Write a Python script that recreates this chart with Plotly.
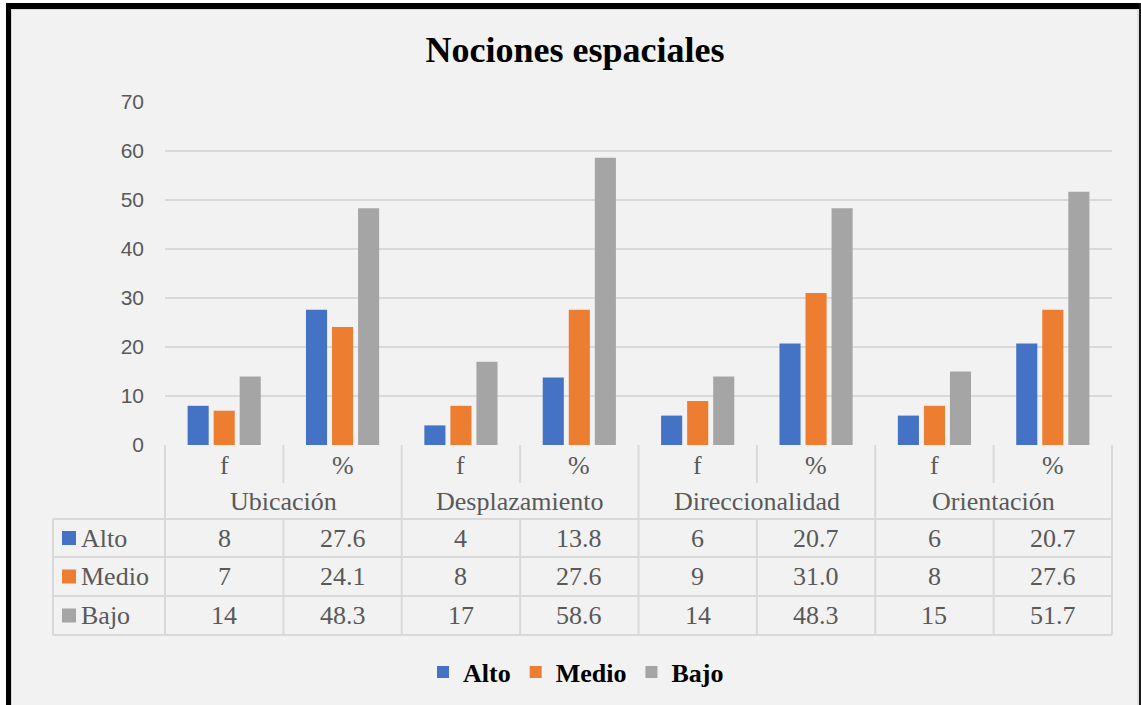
import plotly.graph_objects as go

# ---------------- data ----------------
groups = ["Ubicación", "Desplazamiento", "Direccionalidad", "Orientación"]
sub_labels = ["f", "%"]
series_names = ["Alto", "Medio", "Bajo"]
alto = [8, 27.6, 4, 13.8, 6, 20.7, 6, 20.7]
medio = [7, 24.1, 8, 27.6, 9, 31.0, 8, 27.6]
bajo = [14, 48.3, 17, 58.6, 14, 48.3, 15, 51.7]
series_values = [alto, medio, bajo]
colors = ["#4472c4", "#ed7d31", "#a5a5a5"]
title_text = "Nociones espaciales"
y_ticks = [0, 10, 20, 30, 40, 50, 60, 70]

# ---------------- geometry ----------------
W, H = 1141, 705
ML, MR, MT, MB = 165, 29, 102, 260
PW = W - ML - MR
PH = H - MT - MB
Y0 = H - MB  # pixel y of plot bottom


def PX(X):
    return (X - ML) / PW


def PY(Y):
    return (Y0 - Y) / PH


n_cols = len(groups) * len(sub_labels)
col_w = PW / n_cols
x_cats = [f"{g} {s}" for g in groups for s in sub_labels]

fig = go.Figure()
for name, vals, c in zip(series_names, series_values, colors):
    fig.add_trace(go.Bar(name=name, x=x_cats, y=vals, marker=dict(color=c, line=dict(width=0))))

serif = "Liberation Serif"
grid_c = "#d9d9d9"
txt_c = "#595959"
TBL_SIZE = 26

shapes = []
annotations = []

# table layout (pixels)
tbl_left = 53
row_sub = (445, 483)
row_cat = (483, 519)
data_rows = [(519, 557), (557, 596), (596, 635)]
tbl_bottom = data_rows[-1][1]


def hline(Y, X0, X1):
    shapes.append(dict(type="line", xref="paper", yref="paper", x0=PX(X0), x1=PX(X1),
                       y0=PY(Y), y1=PY(Y), line=dict(color=grid_c, width=2)))


def vline(X, Ya, Yb):
    shapes.append(dict(type="line", xref="paper", yref="paper", x0=PX(X), x1=PX(X),
                       y0=PY(Ya), y1=PY(Yb), line=dict(color=grid_c, width=2)))


for r0, r1 in data_rows:
    hline(r0, tbl_left, ML + PW)
hline(tbl_bottom, tbl_left, ML + PW)
vline(tbl_left, data_rows[0][0], tbl_bottom)
vline(ML, Y0, tbl_bottom)
for i in range(1, n_cols + 1):
    X = ML + i * col_w
    if i % 2 == 0:
        vline(X, Y0, tbl_bottom)
    else:
        vline(X, Y0, row_sub[1])
        vline(X, data_rows[0][0], tbl_bottom)


def ann(text, X, Y, size=TBL_SIZE, color=txt_c, xanchor="center", family=serif, bold=False):
    annotations.append(dict(text=text, xref="paper", yref="paper", x=PX(X), y=PY(Y),
                            xanchor=xanchor, yanchor="middle", showarrow=False,
                            font=dict(family=family, size=size, color=color,
                                      weight="bold" if bold else "normal")))


for i in range(n_cols):
    cx = ML + (i + 0.5) * col_w
    ann(sub_labels[i % 2], cx, (row_sub[0] + row_sub[1]) / 2 + 1)
for gi, g in enumerate(groups):
    cx = ML + (gi + 0.5) * 2 * col_w
    ann(g, cx, (row_cat[0] + row_cat[1]) / 2)

for ri, (name, vals, c) in enumerate(zip(series_names, series_values, colors)):
    r0, r1 = data_rows[ri]
    cy = (r0 + r1) / 2
    shapes.append(dict(type="rect", xref="paper", yref="paper", x0=PX(62), x1=PX(76),
                       y0=PY(cy - 7), y1=PY(cy + 7), fillcolor=c, line=dict(width=0)))
    ann(name, 79, cy, xanchor="left")
    for i, v in enumerate(vals):
        cx = ML + (i + 0.5) * col_w
        label = f"{int(v)}" if i % 2 == 0 else f"{v:.1f}"
        ann(label, cx, cy)

# outer frame
def rect_px(X0, X1, Ya, Yb, color, layer="above"):
    shapes.append(dict(type="rect", xref="paper", yref="paper", x0=PX(X0), x1=PX(X1),
                       y0=PY(Ya), y1=PY(Yb), fillcolor=color, line=dict(width=0), layer=layer))

rect_px(0, W, 0, H + 5, "#ffffff", "below")
rect_px(6, W, 3, H + 5, "#f2f2f2", "below")
rect_px(6, 11, 3, H + 5, "#000000")
rect_px(6, W, 3, 9, "#000000")
rect_px(1139, W, 3, H + 5, "#1a1a1a")
rect_px(1137.5, 1138.5, 9, H + 5, "#d0d0d0")
rect_px(11, 1138, 9, 10, "#d9d9d9")
rect_px(11, 12, 9, H + 5, "#d9d9d9")

fig.update_layout(
    width=W, height=H,
    margin=dict(l=ML, r=MR, t=MT, b=MB, autoexpand=False),
    paper_bgcolor="#f2f2f2", plot_bgcolor="#f2f2f2",
    barmode="group", bargap=0.34, bargroupgap=0.19,
    title=dict(text=title_text, x=575 / W, xanchor="center", xref="container",
               y=1 - 49 / H, yanchor="middle", yref="container", automargin=False,
               font=dict(family=serif, size=36, color="#000000", weight="bold")),
    xaxis=dict(type="category", showticklabels=False, showgrid=False, zeroline=False,
               showline=False, ticks="", range=[-0.5, n_cols - 0.5], fixedrange=True,
               automargin=False),
    yaxis=dict(range=[0, 70], tickvals=y_ticks, showgrid=True, gridcolor=grid_c, gridwidth=1.5,
               zeroline=False, showline=False, ticks="", ticklabelstandoff=20, automargin=False,
               tickfont=dict(family="Liberation Sans", size=21, color=txt_c)),
    legend=dict(orientation="h", x=576 / W, xref="container", xanchor="center",
                y=1 - 672 / H, yref="container", yanchor="middle",
                font=dict(family=serif, size=26, color="#000000", weight="bold"),
                bgcolor="rgba(0,0,0,0)", itemwidth=30, traceorder="normal"),
    shapes=shapes,
    annotations=annotations,
    showlegend=True,
)

fig.write_html("out.html", config={"displayModeBar": False})
